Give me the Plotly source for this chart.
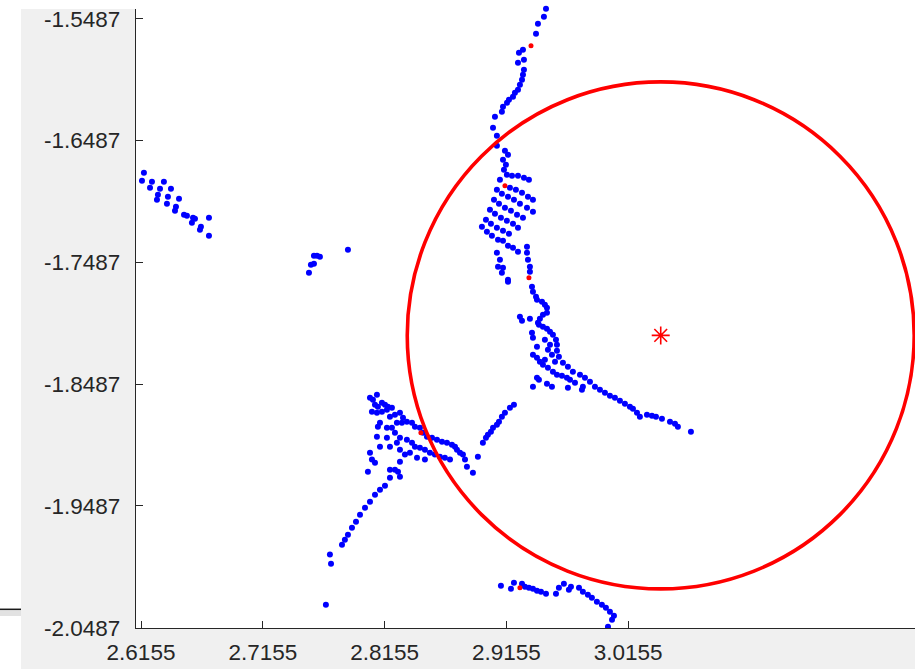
import plotly.graph_objects as go

# ---------------- data ----------------
x_ticks = [2.6155, 2.7155, 2.8155, 2.9155, 3.0155]
y_ticks = [-2.0487, -1.9487, -1.8487, -1.7487, -1.6487, -1.5487]
x_tick_labels = ["2.6155", "2.7155", "2.8155", "2.9155", "3.0155"]
y_tick_labels = ["-2.0487", "-1.9487", "-1.8487", "-1.7487", "-1.6487", "-1.5487"]

cluster_a = [(2.6179,-1.6751),(2.6163,-1.6817),(2.6245,-1.6825),(2.6343,-1.6825),(2.6229,-1.6875),
             (2.6311,-1.6883),(2.6401,-1.6883),(2.6294,-1.6932),(2.6376,-1.6948),(2.6467,-1.6965),
             (2.6286,-1.6973),(2.6368,-1.7006),(2.6442,-1.7031),(2.6434,-1.7063),(2.6508,-1.7096),
             (2.6532,-1.7104),(2.6582,-1.7121),(2.6598,-1.7129),(2.6573,-1.7162),(2.6647,-1.7195),
             (2.6639,-1.7219),(2.6713,-1.7121),(2.6713,-1.7269)]
cluster_b = [(2.7534,-1.7572),(2.7550,-1.7507),(2.7575,-1.7498),(2.7575,-1.7433),(2.7600,-1.7433),
             (2.7624,-1.7441),(2.7854,-1.7384)]
cluster_c = [(2.9480,-1.5405),(2.9463,-1.5471),(2.9414,-1.5528),(2.9398,-1.5610),(2.9291,-1.5742),
             (2.9258,-1.5766),(2.9299,-1.5824),(2.9250,-1.5848),(2.9299,-1.5906),(2.9291,-1.5947),
             (2.9283,-1.5988),(2.9266,-1.6029),(2.9250,-1.6070),(2.9225,-1.6095),(2.9209,-1.6127),
             (2.9176,-1.6152),(2.9160,-1.6177),(2.9127,-1.6210),(2.9118,-1.6251),(2.9061,-1.6292),
             (2.9045,-1.6382),(2.9077,-1.6448),(2.9077,-1.6530)]
cluster_d = [(2.9143,-1.6571),(2.9168,-1.6604),(2.9127,-1.6645),(2.9151,-1.6686),(2.9135,-1.6727),
             (2.9159,-1.6768),(2.9201,-1.6776),(2.9250,-1.6776),(2.9299,-1.6792),(2.9340,-1.6809),
             (2.9102,-1.6809),(2.9184,-1.6874),(2.9233,-1.6891),(2.9283,-1.6916),(2.9332,-1.6948),
             (2.9373,-1.6973),(2.9077,-1.6891),(2.9118,-1.6924),(2.9168,-1.6948),(2.9217,-1.6973),
             (2.9266,-1.7006),(2.9324,-1.7039),(2.9373,-1.7072),(2.9053,-1.6973),(2.9094,-1.7006),
             (2.9143,-1.7039),(2.9192,-1.7063),(2.9242,-1.7096),(2.9291,-1.7121),(2.9020,-1.7055),
             (2.9061,-1.7088),(2.9110,-1.7121),(2.9159,-1.7145),(2.9209,-1.7170),(2.9250,-1.7203),
             (2.8987,-1.7137),(2.9028,-1.7170),(2.9077,-1.7203),(2.9127,-1.7228),(2.9176,-1.7252),
             (2.8954,-1.7195),(2.8995,-1.7236),(2.9036,-1.7269),(2.9086,-1.7301),(2.9127,-1.7310),
             (2.9168,-1.7351),(2.9209,-1.7367),(2.9250,-1.7400),(2.9077,-1.7408),(2.9102,-1.7466),
             (2.9086,-1.7523),(2.9127,-1.7531),(2.9118,-1.7572),(2.9168,-1.7630),(2.9324,-1.7359),
             (2.9324,-1.7408),(2.9332,-1.7466),(2.9348,-1.7523),(2.9348,-1.7564)]
cluster_e = [(2.9168,-1.7646),(2.9365,-1.7687),(2.9373,-1.7728),(2.9398,-1.7769),(2.9406,-1.7794),
             (2.9447,-1.7810),(2.9471,-1.7835),(2.9488,-1.7860),(2.9488,-1.7901),(2.9455,-1.7917),
             (2.9430,-1.7950),(2.9422,-1.7999),(2.9455,-1.8016),(2.9488,-1.8032),(2.9513,-1.8057),
             (2.9537,-1.8081),(2.9562,-1.8122),(2.9570,-1.8163),(2.9570,-1.8213),(2.9586,-1.8262),
             (2.9619,-1.8311),(2.9660,-1.8344),(2.9701,-1.8385),(2.9759,-1.8410),(2.9800,-1.8434),
             (2.9841,-1.8467),(2.9882,-1.8508),(2.9923,-1.8533),(2.9964,-1.8558),(3.0005,-1.8582),
             (3.0046,-1.8599),(3.0087,-1.8623),(3.0128,-1.8648),(3.0169,-1.8672),(3.0194,-1.8689),
             (3.0227,-1.8722),(3.0251,-1.8755),(3.0309,-1.8738),(3.0350,-1.8746),(3.0383,-1.8755),
             (3.0432,-1.8771),(3.0498,-1.8796),(3.0539,-1.8812),(3.0563,-1.8837),(3.0670,-1.8878),
             (2.9266,-1.7934),(2.9283,-1.7966),(2.9348,-1.7950),(2.9365,-1.8065),(2.9373,-1.8106),
             (2.9406,-1.8180),(2.9373,-1.8246),(2.9406,-1.8270),(2.9430,-1.8303),(2.9455,-1.8328),
             (2.9496,-1.8352),(2.9537,-1.8385),(2.9570,-1.8410),(2.9611,-1.8418),(2.9652,-1.8434),
             (2.9677,-1.8451),(2.9718,-1.8475),(2.9783,-1.8508),(2.9406,-1.8434),(2.9422,-1.8451),
             (2.9373,-1.8508),(2.9488,-1.8484),(2.9529,-1.8508),(2.9660,-1.8516),(2.9775,-1.8533),
             (2.9414,-1.7983),(2.9471,-1.8122),(2.9496,-1.8205),(2.9513,-1.8163),(2.9529,-1.8246),
             (2.9554,-1.8303),(2.9471,-1.8287)]
cluster_f = [(2.9217,-1.8656),(2.9184,-1.8681),(2.9143,-1.8722),(2.9118,-1.8755),(2.9094,-1.8796),
             (2.9077,-1.8820),(2.9045,-1.8845),(2.9028,-1.8878),(2.9003,-1.8902),(2.8987,-1.8927),
             (2.8962,-1.8968),(2.8921,-1.9083)]
cluster_g = [(2.8035,-1.8599),(2.8059,-1.8615),(2.8092,-1.8574),(2.8076,-1.8656),(2.8100,-1.8672),
             (2.8133,-1.8640),(2.8158,-1.8656),(2.8182,-1.8672),(2.8051,-1.8714),(2.8092,-1.8722),
             (2.8133,-1.8714),(2.8174,-1.8697),(2.8215,-1.8681),(2.8199,-1.8755),(2.8240,-1.8738),
             (2.8281,-1.8722),(2.8306,-1.8763),(2.8256,-1.8804),(2.8297,-1.8804),(2.8338,-1.8796),
             (2.8380,-1.8804),(2.8404,-1.8837),(2.8445,-1.8845),(2.8470,-1.8886),(2.8503,-1.8919),
             (2.8544,-1.8927),(2.8585,-1.8943),(2.8626,-1.8960),(2.8667,-1.8968),(2.8708,-1.8984),
             (2.8733,-1.9001),(2.8749,-1.9025),(2.8774,-1.9050),(2.8798,-1.9066),(2.8815,-1.9107),
             (2.8831,-1.9165),(2.8880,-1.9214),(2.8117,-1.8804),(2.8100,-1.8837),(2.8174,-1.8845),
             (2.8215,-1.8845),(2.8240,-1.8886),(2.8281,-1.8927),(2.8338,-1.8943),(2.8380,-1.8968),
             (2.8404,-1.9001),(2.8445,-1.9009),(2.8486,-1.9025),(2.8527,-1.9050),(2.8568,-1.9066),
             (2.8609,-1.9083),(2.8650,-1.9091),(2.8692,-1.9107),(2.8035,-1.9050),(2.8051,-1.9107),
             (2.8076,-1.9132),(2.8117,-1.9001),(2.8199,-1.9001),(2.8281,-1.9025),(2.8363,-1.9050),
             (2.8421,-1.9091),(2.8486,-1.9107),(2.8092,-1.8919),(2.8174,-1.8927),(2.8256,-1.8968),
             (2.8018,-1.9206),(2.8199,-1.9190),(2.8265,-1.9206),(2.8281,-1.9247),(2.8322,-1.9066),
             (2.8281,-1.9124),(2.8240,-1.9190),(2.8199,-1.9255),(2.8158,-1.9321),(2.8117,-1.9354),
             (2.8076,-1.9395),(2.8035,-1.9452),(2.7994,-1.9502),(2.7953,-1.9559),(2.7920,-1.9617),
             (2.7887,-1.9666),(2.7854,-1.9723),(2.7829,-1.9764),(2.7805,-1.9805),(2.7706,-1.9887),
             (2.7715,-1.9961),(2.7673,-2.0298)]
cluster_h = [(2.9110,-2.0142),(2.9217,-2.0117),(2.9192,-2.0167),(2.9283,-2.0126),(2.9307,-2.0150),
             (2.9340,-2.0159),(2.9373,-2.0167),(2.9406,-2.0183),(2.9439,-2.0191),(2.9480,-2.0208),
             (2.9562,-2.0208),(2.9586,-2.0159),(2.9627,-2.0126),(2.9668,-2.0175),(2.9685,-2.0150),
             (2.9751,-2.0159),(2.9783,-2.0191),(2.9824,-2.0216),(2.9857,-2.0241),(2.9898,-2.0273),
             (2.9939,-2.0298),(2.9972,-2.0323),(3.0005,-2.0356),(3.0038,-2.0388),(3.0022,-2.0421),
             (2.9989,-2.0479)]
red_points = [(2.9357,-1.5709),(2.9143,-1.6858),(2.9340,-1.7613),(2.8453,-1.8886),(2.9266,-2.0159)]
center = (3.0422, -1.8087)
radius = 0.2081

# ---------------- figure ----------------
blue = cluster_a + cluster_b + cluster_c + cluster_d + cluster_e + cluster_f + cluster_g + cluster_h

W, H = 915, 669
ML, MB = 136, 41
plot_w, plot_h = W - ML, H - MB
px_per_unit = 1218.0
x0 = 2.6155 - 5.0 / px_per_unit
x_range = [x0, x0 + plot_w / px_per_unit]
y0 = -2.0487 - 0.3 / px_per_unit
y_range = [y0, y0 + plot_h / px_per_unit]

fig = go.Figure()
fig.add_trace(go.Scatter(x=[p[0] for p in blue], y=[p[1] for p in blue], mode="markers",
                         marker=dict(color="#0000ff", size=6, line=dict(width=0)),
                         hoverinfo="skip", showlegend=False))
fig.add_trace(go.Scatter(x=[p[0] for p in red_points], y=[p[1] for p in red_points], mode="markers",
                         marker=dict(color="#ff0000", size=5, line=dict(width=0)),
                         hoverinfo="skip", showlegend=False))
fig.add_trace(go.Scatter(x=[center[0]], y=[center[1]], mode="markers",
                         marker=dict(symbol="asterisk-open", size=15, color="#ff0000",
                                     line=dict(color="#ff0000", width=1.6)),
                         hoverinfo="skip", showlegend=False))

fig.add_shape(type="circle", xref="x", yref="y",
              x0=center[0] - radius, x1=center[0] + radius,
              y0=center[1] - radius, y1=center[1] + radius,
              line=dict(color="#ff0000", width=3.6), layer="above")

def px_to_paper_x(px):
    return (px - ML) / plot_w

def py_to_paper_y(py):
    return (plot_h - py) / plot_h

# white desktop strips around the cropped MATLAB window
fig.add_shape(type="rect", xref="paper", yref="paper",
              x0=px_to_paper_x(0), x1=px_to_paper_x(21), y0=py_to_paper_y(H), y1=py_to_paper_y(0),
              fillcolor="#ffffff", line=dict(width=0), layer="above")
fig.add_shape(type="rect", xref="paper", yref="paper",
              x0=px_to_paper_x(21), x1=px_to_paper_x(ML), y0=py_to_paper_y(9), y1=py_to_paper_y(0),
              fillcolor="#ffffff", line=dict(width=0), layer="above")
fig.add_shape(type="rect", xref="paper", yref="paper",
              x0=px_to_paper_x(0), x1=px_to_paper_x(21), y0=py_to_paper_y(616), y1=py_to_paper_y(610),
              fillcolor="#e2e2e2", line=dict(width=0), layer="above")
fig.add_shape(type="line", xref="paper", yref="paper",
              x0=px_to_paper_x(0), x1=px_to_paper_x(21), y0=py_to_paper_y(609.3), y1=py_to_paper_y(609.3),
              line=dict(color="#1a1a1a", width=1.5), layer="above")

axis_font = dict(family="Liberation Sans, Arial, sans-serif", size=22.5, color="#262626")
fig.update_layout(
    width=W, height=H,
    margin=dict(l=ML, r=0, t=0, b=MB, pad=0),
    paper_bgcolor="#f0f0f0", plot_bgcolor="#ffffff",
    hovermode=False,
    xaxis=dict(range=x_range, tickvals=x_ticks, ticktext=x_tick_labels, ticks="inside",
               ticklen=7, tickwidth=1, tickcolor="#262626", showline=True, linecolor="#262626",
               linewidth=1.3, showgrid=False, zeroline=False, tickfont=axis_font, mirror=False,
               ticklabelstandoff=4, fixedrange=True),
    yaxis=dict(range=y_range, tickvals=y_ticks, ticktext=y_tick_labels, ticks="inside",
               ticklen=7, tickwidth=1, tickcolor="#262626", showline=True, linecolor="#262626",
               linewidth=1.3, showgrid=False, zeroline=False, tickfont=axis_font, mirror=False,
               ticklabelstandoff=10, fixedrange=True),
)

fig.write_html("out.html", config={"displayModeBar": False},
               post_script="document.body.style.margin='0';document.body.style.overflow='hidden';")
